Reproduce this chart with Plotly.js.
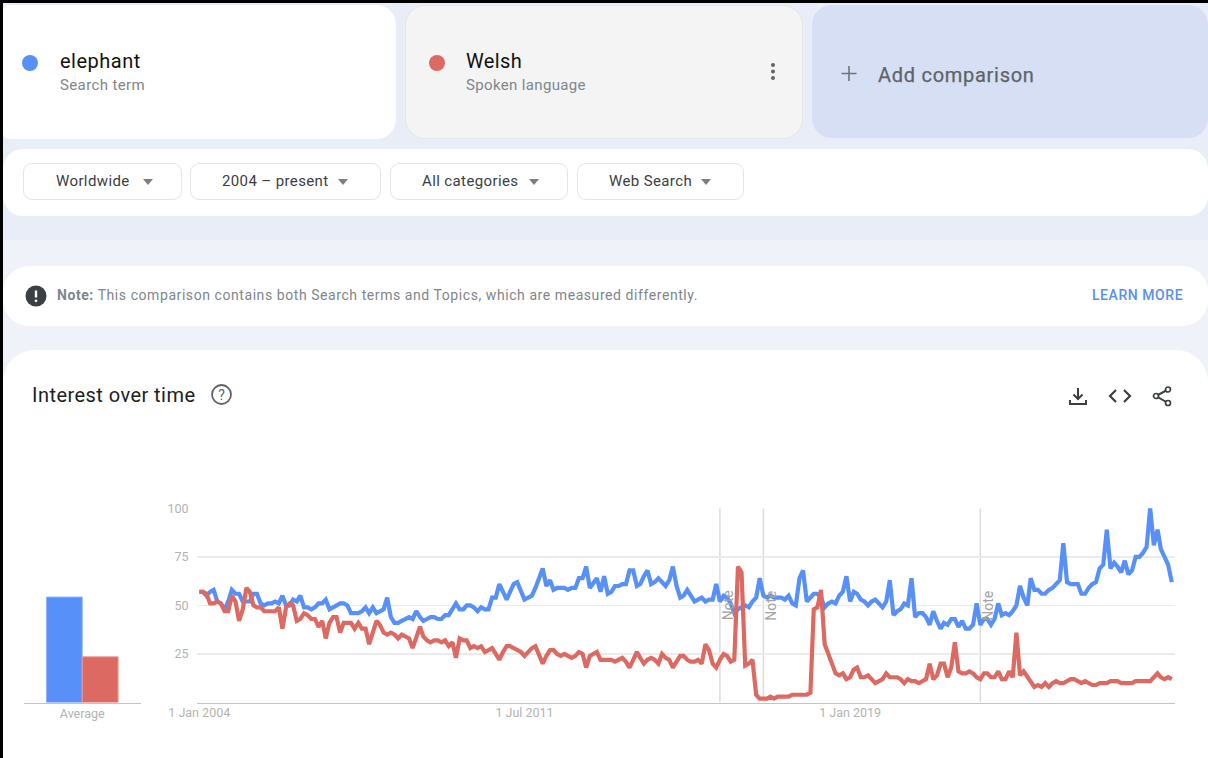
<!DOCTYPE html>
<html><head><meta charset="utf-8">
<script src="https://cdn.plot.ly/plotly-3.0.1.min.js"></script>
<style>
html,body{margin:0;padding:0;width:1208px;height:758px;overflow:hidden;background:#eff2f8;font-family:Roboto,"Open Sans",sans-serif}
.a{position:absolute;box-sizing:border-box}
.t{position:absolute;white-space:nowrap;line-height:1}
.btn{position:absolute;box-sizing:border-box;top:163px;height:37px;background:#fff;border:1px solid #e3e5e9;border-radius:9px}
.btn span{position:absolute;top:10px;font-size:15px;letter-spacing:.38px;color:#3c4043;line-height:1;white-space:nowrap}
.btn i{position:absolute;top:15px;width:0;height:0;border-left:5.5px solid transparent;border-right:5.5px solid transparent;border-top:6px solid #7a7f84}
#plot{position:absolute;left:0;top:470px;width:1208px;height:288px}
</style></head><body>
<div class="a" style="left:0;top:0;width:1208px;height:240px;background:#e9edf7"></div>
<div class="a" style="left:3px;top:5px;width:393px;height:134px;background:#fff;border-radius:6px 20px 20px 6px"></div>
<div class="a" style="left:405px;top:5px;width:398px;height:134px;background:#f4f4f4;border:1px solid #e6e7ea;border-radius:20px"></div>
<div class="a" style="left:812px;top:5px;width:396px;height:133px;background:#d6dff3;border-radius:20px"></div>
<div class="a" style="left:22px;top:55px;width:16px;height:16px;border-radius:50%;background:#5790f8"></div>
<div class="a" style="left:429px;top:55px;width:16px;height:16px;border-radius:50%;background:#dc6a62"></div>
<div class="t" style="left:60px;top:51px;font-size:20px;letter-spacing:.5px;color:#111">elephant</div>
<div class="t" style="left:60px;top:78px;font-size:15px;letter-spacing:.38px;color:#80868b">Search term</div>
<div class="t" style="left:466px;top:51px;font-size:20px;letter-spacing:.4px;color:#111">Welsh</div>
<div class="t" style="left:466px;top:78px;font-size:15px;letter-spacing:.35px;color:#80868b">Spoken language</div>
<svg class="a" style="left:768px;top:62px" width="10" height="20"><circle cx="5" cy="3" r="2" fill="#5f6368"/><circle cx="5" cy="9.5" r="2" fill="#5f6368"/><circle cx="5" cy="16" r="2" fill="#5f6368"/></svg>
<svg class="a" style="left:840px;top:65px" width="18" height="18"><path d="M9 1v15M1.5 8.5h15" stroke="#6f7478" stroke-width="1.6"/></svg>
<div class="t" style="left:878px;top:65px;font-size:20px;letter-spacing:.72px;color:#5f6368;-webkit-text-stroke:.25px #5f6368">Add comparison</div>

<div class="a" style="left:3px;top:149px;width:1205px;height:67px;background:#fff;border-radius:20px"></div>
<div class="btn" style="left:23px;width:159px"><span style="left:32px">Worldwide</span><i style="left:119px"></i></div>
<div class="btn" style="left:190px;width:191px"><span style="left:31px">2004 – present</span><i style="left:147px"></i></div>
<div class="btn" style="left:390px;width:178px"><span style="left:31px">All categories</span><i style="left:138px"></i></div>
<div class="btn" style="left:577px;width:167px"><span style="left:31px">Web Search</span><i style="left:123px"></i></div>

<div class="a" style="left:3px;top:266px;width:1205px;height:60px;background:#fff;border-radius:26px"></div>
<svg class="a" style="left:25px;top:285px" width="22" height="22"><circle cx="11" cy="11" r="10.5" fill="#3c4043"/><path d="M11 5.5v7" stroke="#fff" stroke-width="2.4"/><circle cx="11" cy="15.8" r="1.4" fill="#fff"/></svg>
<div class="t" style="left:57px;top:288px;font-size:14px;letter-spacing:.57px;color:#80868b"><b>Note:</b> This comparison contains both Search terms and Topics, which are measured differently.</div>
<div class="t" style="left:1092px;top:288px;font-size:14px;font-weight:500;letter-spacing:.55px;color:#5a8ff0">LEARN MORE</div>

<div class="a" style="left:3px;top:350px;width:1205px;height:408px;background:#fff;border-radius:32px 32px 0 0"></div>
<div class="t" style="left:32px;top:385px;font-size:20px;letter-spacing:.45px;color:#202124">Interest over time</div>
<svg class="a" style="left:210px;top:383px" width="23" height="23"><circle cx="11.5" cy="11.5" r="9.5" fill="none" stroke="#5f6368" stroke-width="1.8"/><text x="11.5" y="16.5" font-size="14" font-family="Roboto" fill="#5f6368" text-anchor="middle">?</text></svg>
<svg class="a" style="left:1067px;top:385px" width="22" height="22"><path d="M11 3v11M6.5 9.5 11 14l4.5-4.5M3 15v4h16v-4" fill="none" stroke="#3c4043" stroke-width="2"/></svg>
<svg class="a" style="left:1108px;top:387px" width="24" height="18"><path d="M8 3 2 9l6 6M16 3l6 6-6 6" fill="none" stroke="#3c4043" stroke-width="2.2"/></svg>
<svg class="a" style="left:1151px;top:385px" width="22" height="22"><path d="M17 4.5 5 11l12 7" fill="none" stroke="#3c4043" stroke-width="2"/><circle cx="17" cy="4.5" r="2.5" fill="#fff" stroke="#3c4043" stroke-width="1.7"/><circle cx="5" cy="11" r="2.5" fill="#fff" stroke="#3c4043" stroke-width="1.7"/><circle cx="17" cy="18" r="2.5" fill="#fff" stroke="#3c4043" stroke-width="1.7"/></svg>

<div id="plot"></div>
<div class="a" style="left:0;top:0;width:1208px;height:3px;background:#000"></div>
<div class="a" style="left:0;top:0;width:3px;height:758px;background:#000"></div>
<script>
const elephant = [57,57,55,57,58,52,51,48,52,58,
56,56,52,52,52,56,56,51,50,51,
51,52,51,55,50,50,53,52,55,49,
49,48,49,51,51,53,48,49,50,51,
51,50,46,46,46,47,49,46,49,46,
47,48,54,44,41,41,42,43,44,43,
47,44,42,43,44,44,43,43,45,45,
48,51,48,48,50,50,49,47,49,48,
48,54,54,61,57,53,57,61,62,58,
53,54,55,59,64,69,60,63,58,59,
59,59,58,59,59,64,64,70,59,62,
64,57,65,56,57,60,60,61,61,68,
68,60,61,65,68,61,62,64,62,60,
63,70,60,54,55,58,55,52,53,54,
52,53,53,61,52,55,54,51,46,48,
49,50,49,52,54,64,55,54,55,54,
54,54,53,55,51,50,64,68,52,54,
56,56,54,49,51,52,51,55,57,65,
52,57,56,53,52,50,52,53,51,49,
52,63,45,47,48,51,50,64,44,46,
46,44,40,47,42,38,41,40,43,43,
39,42,38,38,40,51,40,43,43,40,
43,51,45,46,45,47,50,60,54,50,
64,58,58,56,56,58,59,61,63,82,
62,61,61,61,56,56,59,61,62,69,
71,89,69,72,70,67,73,66,68,75,
75,77,80,100,81,89,79,75,71,62];
const welsh = [57,57,56,51,51,52,51,47,47,55,
52,42,48,59,57,50,49,49,47,47,
47,47,49,38,49,51,50,42,43,46,
45,43,43,39,42,33,41,44,44,36,
41,41,41,38,41,38,38,30,37,42,
40,36,35,36,35,33,35,34,33,28,
33,39,34,32,31,32,32,31,32,29,
31,23,33,32,32,28,29,28,29,26,
27,28,25,22,26,29,29,28,27,26,
24,26,28,29,25,20,24,27,27,25,
24,25,24,23,24,26,25,18,24,25,
26,22,22,22,22,21,22,23,21,18,
22,26,23,20,22,23,22,20,25,23,
22,18,21,24,24,22,21,21,22,20,
30,27,20,18,22,25,24,21,22,70,
67,19,20,22,4,2,2,2,3,2,
3,3,3,3,4,4,4,4,4,5,
48,49,58,30,25,21,15,14,15,12,
13,17,18,13,13,14,12,10,11,12,
15,13,13,13,12,10,12,11,11,10,
11,12,20,12,14,20,20,13,18,31,
16,15,15,16,15,13,12,15,15,13,
13,16,12,12,16,13,36,14,16,13,
10,8,9,8,10,8,10,11,10,10,
11,12,12,11,10,11,10,9,9,10,
10,10,11,11,11,10,10,10,10,11,
11,11,11,11,13,15,13,12,13,12];
const averages = [54.3, 23.5];
const seriesNames = ['elephant','Welsh'];
const seriesColors = ['#5790f8','#dc6a62'];
const yTicks = [25,50,75,100];
const xTickVals = ['2004-01-01','2011-07-01','2019-01-01'];
const xTickText = ['1 Jan 2004','1 Jul 2011','1 Jan 2019'];
const noteDates = ['2016-01-01','2017-01-01','2022-01-01'];

const months = elephant.map((_, i) => {
  const y = 2004 + Math.floor(i / 12), m = i % 12 + 1;
  return y + '-' + String(m).padStart(2, '0') + '-01';
});
const W = 1208, H = 288, T = 470;
const fy = p => (T + H - p) / H;
const tickFont = {family:'Roboto, sans-serif', size:12.5, color:'#b3b3b3'};

const traces = [
  {x:months, y:elephant, name:seriesNames[0], type:'scatter', mode:'lines', cliponaxis:false,
   line:{color:seriesColors[0], width:4.2, shape:'linear'}, xaxis:'x', yaxis:'y'},
  {x:months, y:welsh, name:seriesNames[1], type:'scatter', mode:'lines', cliponaxis:false,
   line:{color:seriesColors[1], width:4.2, shape:'linear'}, xaxis:'x', yaxis:'y'},
  {x:['Average'], y:[averages[0]], name:seriesNames[0], type:'bar', marker:{color:seriesColors[0], line:{color:'#8fb4fb', width:1}}, xaxis:'x2', yaxis:'y2'},
  {x:['Average'], y:[averages[1]], name:seriesNames[1], type:'bar', marker:{color:seriesColors[1], line:{color:'#e79a94', width:1}}, xaxis:'x2', yaxis:'y2'}
];
const layout = {
  width:W, height:H, autosize:false, showlegend:false,
  margin:{l:0,r:0,t:0,b:0,pad:0},
  paper_bgcolor:'rgba(0,0,0,0)', plot_bgcolor:'rgba(0,0,0,0)',
  font:{family:'Roboto, sans-serif'},
  barmode:'group', bargap:0.39, bargroupgap:0,
  xaxis:{type:'date', domain:[197/W,1175/W], range:['2003-12-13','2026-06-28'], anchor:'y',
    tickmode:'array', tickvals:xTickVals, ticktext:xTickText, tickfont:tickFont, ticklabelstandoff:-2,
    showgrid:false, zeroline:false, showline:true, linecolor:'#c4c4c4', linewidth:1.5,
    ticks:'outside', ticklen:0.1, tickcolor:'rgba(0,0,0,0)'},
  yaxis:{domain:[fy(702.5),fy(508.3)], range:[0,100], anchor:'x',
    tickmode:'array', tickvals:yTicks, tickfont:tickFont,
    showgrid:true, gridcolor:'#ebebeb', gridwidth:1.5, zeroline:false, showline:false,
    ticks:'outside', ticklen:5, tickcolor:'rgba(0,0,0,0)'},
  xaxis2:{type:'category', domain:[23.5/W,141/W], anchor:'y2', tickfont:tickFont, ticklabelstandoff:-1,
    showgrid:false, zeroline:false, showline:true, linecolor:'#c4c4c4', linewidth:1.5,
    ticks:'outside', ticklen:0.1, tickcolor:'rgba(0,0,0,0)'},
  yaxis2:{domain:[fy(702.5),fy(508.3)], range:[0,100], anchor:'x2', visible:false},
  shapes: noteDates.map(d => ({type:'line', xref:'x', yref:'y', x0:d, x1:d, y0:0, y1:100, layer:'below',
    line:{color:'#dcdcdc', width:1.5}})),
  annotations: noteDates.map(d => ({xref:'x', yref:'y', x:d, y:50, xshift:8, text:'Note', textangle:-90,
    showarrow:false, font:{family:'Roboto, sans-serif', size:14, color:'#a3a3a3'}}))
};
Plotly.newPlot('plot', traces, layout, {displayModeBar:false, staticPlot:true});
</script>
</body></html>
